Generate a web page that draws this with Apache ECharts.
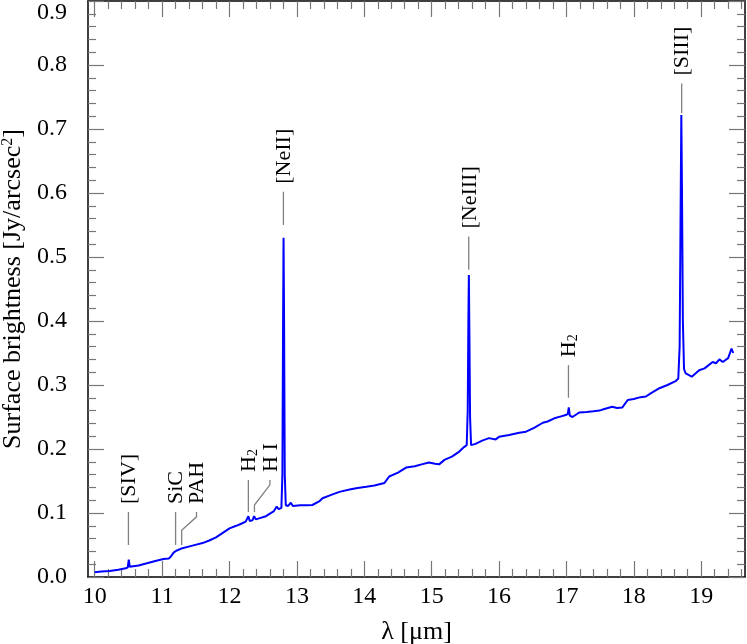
<!DOCTYPE html>
<html>
<head>
<meta charset="utf-8">
<script src="https://cdn.jsdelivr.net/npm/echarts@6/dist/echarts.min.js"></script>
<style>
  html, body { margin: 0; padding: 0; background: #fff; }
  #chart { width: 747px; height: 644px; }
</style>
</head>
<body>
<div id="chart"></div>
<script>
// spectrum (wavelength in micron, surface brightness in Jy/arcsec^2)
const waves = [
  10.00, 10.10, 10.22, 10.35, 10.46, 10.49, 10.505, 10.52, 10.54, 10.65,
  10.76, 10.90, 11.02, 11.10, 11.13, 11.17, 11.21, 11.30, 11.45, 11.60,
  11.70, 11.80, 11.90, 12.00, 12.10, 12.19, 12.24, 12.265, 12.28, 12.30,
  12.34, 12.365, 12.39, 12.45, 12.54, 12.60, 12.66, 12.70, 12.73, 12.77,
  12.785, 12.795, 12.802, 12.81, 12.82, 12.835, 12.87, 12.91, 12.94, 13.05,
  13.15, 13.23, 13.33, 13.38, 13.50, 13.63, 13.80, 13.90, 14.03, 14.15,
  14.30, 14.37, 14.50, 14.62, 14.75, 14.85, 14.96, 15.05, 15.11, 15.19,
  15.30, 15.41, 15.48, 15.52, 15.535, 15.545, 15.552, 15.56, 15.57, 15.585,
  15.65, 15.75, 15.85, 15.95, 16.00, 16.15, 16.30, 16.40, 16.52, 16.65,
  16.72, 16.82, 16.92, 16.99, 17.02, 17.035, 17.05, 17.09, 17.19, 17.30,
  17.40, 17.49, 17.55, 17.68, 17.75, 17.83, 17.91, 18.00, 18.10, 18.18,
  18.25, 18.38, 18.50, 18.62, 18.66, 18.68, 18.693, 18.705, 18.715, 18.728,
  18.745, 18.77, 18.86, 18.97, 19.05, 19.17, 19.22, 19.27, 19.32, 19.40,
  19.45, 19.475
];
const flux = [
  0.0073, 0.0085, 0.0094, 0.0115, 0.0135, 0.015, 0.027, 0.016, 0.015, 0.018,
  0.021, 0.025, 0.028, 0.029, 0.032, 0.038, 0.041, 0.045, 0.049, 0.053,
  0.057, 0.062, 0.069, 0.076, 0.080, 0.084, 0.0865, 0.087, 0.095, 0.0875,
  0.0885, 0.095, 0.090, 0.092, 0.095, 0.099, 0.103, 0.110, 0.106, 0.108,
  0.16, 0.40, 0.53, 0.40, 0.16, 0.112, 0.111, 0.116, 0.111, 0.112,
  0.112, 0.1125, 0.118, 0.123, 0.128, 0.133, 0.137, 0.139, 0.141, 0.143,
  0.147, 0.157, 0.163, 0.171, 0.173, 0.176, 0.179, 0.177, 0.176, 0.183,
  0.188, 0.196, 0.203, 0.206, 0.26, 0.40, 0.472, 0.38, 0.25, 0.206,
  0.208, 0.213, 0.217, 0.215, 0.219, 0.222, 0.2255, 0.227, 0.233, 0.241,
  0.243, 0.248, 0.251, 0.253, 0.255, 0.265, 0.252, 0.250, 0.257, 0.258,
  0.259, 0.260, 0.262, 0.266, 0.264, 0.265, 0.2766, 0.278, 0.281, 0.282,
  0.287, 0.295, 0.300, 0.306, 0.310, 0.36, 0.55, 0.722, 0.60, 0.40,
  0.325, 0.318, 0.313, 0.323, 0.326, 0.336, 0.334, 0.340, 0.336, 0.342,
  0.357, 0.350
];

// line identifications
const annotNames = ['[SIV]', 'SiC', 'PAH', 'H{sub|2}', 'H I', '[NeII]', '[NeIII]', 'H{sub|2}', '[SIII]'];
const annotWaves = [10.50, 11.20, 11.29, 12.28, 12.37, 12.80, 15.55, 17.03, 18.71];
const annotTextWaves = [10.50, 11.20, 11.51, 12.28, 12.60, 12.80, 15.55, 17.03, 18.71];
const annotLow = [0.05, 0.05, 0.05, 0.1016, 0.1016, 0.55, 0.48, 0.28, 0.725];
const annotHigh = [0.1016, 0.1016, 0.1016, 0.1516, 0.1516, 0.602, 0.532, 0.331, 0.771];
const annotKneeLow = [0, 0, 0.073, 0, 0.1125, 0, 0, 0, 0];
const annotKneeHigh = [0, 0, 0.094, 0, 0.144, 0, 0, 0, 0];

// axis ticks
const xMajor = [10, 11, 12, 13, 14, 15, 16, 17, 18, 19];
const xMinor = [];
for (let v = 10; v < 19.65; v += 0.2) {
  const r = Math.round(v * 10) / 10;
  if (Math.abs(r - Math.round(r)) > 1e-6) xMinor.push(r);
}

const FONT = 'Liberation Serif';
const tickColor = '#777';

const chart = echarts.init(document.getElementById('chart'));

function xAxisDef(position, major, withLabels) {
  return {
    type: 'value',
    min: 9.9,
    max: 19.65,
    position: position,
    axisLine: { show: major, lineStyle: { color: '#000', width: 1.5 } },
    axisTick: {
      show: true,
      inside: true,
      customValues: major ? xMajor : xMinor,
      length: major ? 16 : 8,
      lineStyle: { color: tickColor, width: 1.2 }
    },
    axisLabel: withLabels ? {
      show: true,
      customValues: xMajor,
      margin: 8,
      fontSize: 24,
      fontFamily: FONT,
      color: '#000'
    } : { show: false },
    splitLine: { show: false }
  };
}

const xAxes = [
  xAxisDef('bottom', true, true),
  xAxisDef('bottom', false, false),
  xAxisDef('top', true, false),
  xAxisDef('top', false, false)
];
xAxes[0].name = 'λ [μm]';
xAxes[0].nameLocation = 'middle';
xAxes[0].nameGap = 42;
xAxes[0].nameTextStyle = { fontSize: 26, fontFamily: FONT, color: '#000' };

function yAxisDef(position, withLabels) {
  return {
    type: 'value',
    min: 0,
    max: 0.9,
    interval: 0.1,
    position: position,
    axisLine: { show: true, lineStyle: { color: '#000', width: 1.5 } },
    axisTick: { show: true, inside: true, length: 16, lineStyle: { color: tickColor, width: 1.2 } },
    minorTick: { show: true, splitNumber: 5, length: 8, lineStyle: { color: tickColor, width: 1.2 } },
    axisLabel: withLabels ? {
      show: true,
      margin: 21,
      fontSize: 24,
      fontFamily: FONT,
      color: '#000',
      verticalAlignMaxLabel: 'top',
      formatter: v => v.toFixed(1)
    } : { show: false },
    splitLine: { show: false }
  };
}

const yAxes = [yAxisDef('left', true), yAxisDef('right', false)];
yAxes[0].name = 'Surface brightness [Jy/arcsec{sup|2}]';
yAxes[0].nameLocation = 'middle';
yAxes[0].nameGap = 61;
yAxes[0].nameTextStyle = {
  fontSize: 26, fontFamily: FONT, color: '#000',
  rich: { sup: { fontSize: 16, fontFamily: FONT, color: '#000', verticalAlign: 'top', padding: [0, 0, 10, 0] } }
};

function renderAnnot(params, api) {
  const i = params.dataIndex;
  const x0 = api.value(0);
  const lo = api.value(1);
  const hi = api.value(2);
  const xt = api.value(3);
  const p0 = api.coord([x0, lo]);
  const pTop = api.coord([xt, hi]);
  let points;
  if (xt !== x0) {
    points = [p0, api.coord([x0, api.value(4)]), api.coord([xt, api.value(5)]), pTop];
  } else {
    points = [p0, pTop];
  }
  return {
    type: 'group',
    children: [
      {
        type: 'polyline',
        shape: { points: points },
        style: { stroke: '#808080', lineWidth: 1.3, fill: null }
      },
      {
        type: 'text',
        x: pTop[0] + 1,
        y: pTop[1] - 8,
        rotation: Math.PI / 2,
        style: {
          text: annotNames[i],
          fontSize: 22,
          fontFamily: FONT,
          fill: '#000',
          align: 'left',
          verticalAlign: 'middle',
          rich: { sub: { fontSize: 14, fontFamily: FONT, fill: '#000', verticalAlign: 'bottom' } }
        }
      }
    ]
  };
}

const option = {
  animation: false,
  backgroundColor: '#fff',
  grid: { left: 88, right: 2, top: 1, bottom: 67, containLabel: false, outerBoundsMode: 'none' },
  xAxis: xAxes,
  yAxis: yAxes,
  series: [
    {
      name: 'spectrum',
      type: 'line',
      xAxisIndex: 0,
      yAxisIndex: 0,
      showSymbol: false,
      symbol: 'none',
      lineStyle: { color: '#0000ff', width: 2 },
      data: waves.map((w, i) => [w, flux[i]])
    },
    {
      name: 'lines',
      type: 'custom',
      xAxisIndex: 0,
      yAxisIndex: 0,
      silent: true,
      encode: { x: 0, y: 1 },
      renderItem: renderAnnot,
      data: annotWaves.map((w, i) => [w, annotLow[i], annotHigh[i], annotTextWaves[i], annotKneeLow[i], annotKneeHigh[i]])
    }
  ]
};

chart.setOption(option);
</script>
</body>
</html>
